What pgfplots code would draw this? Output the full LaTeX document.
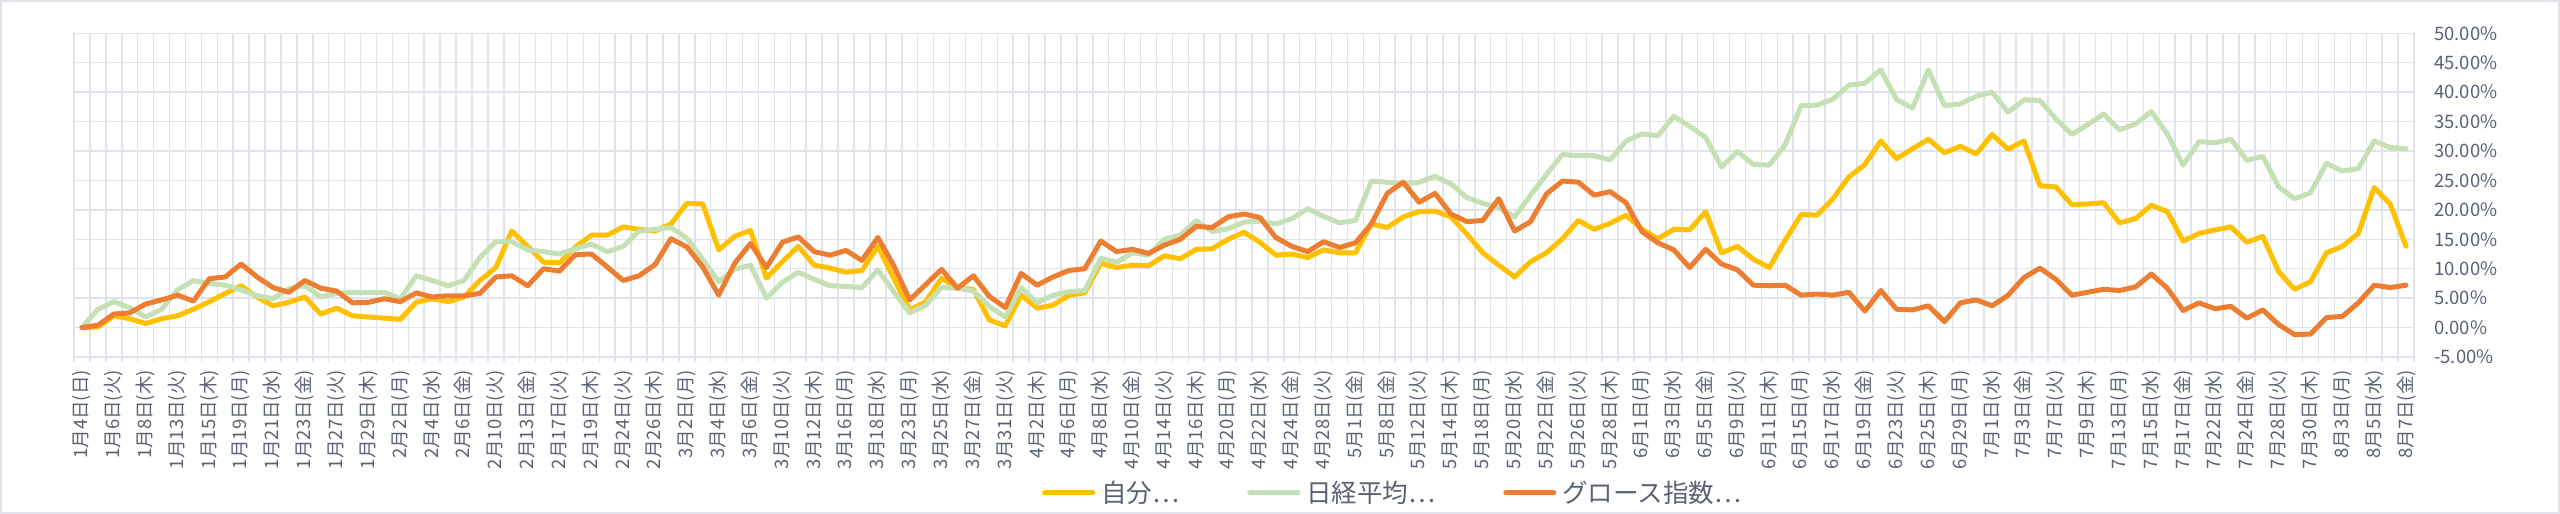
\documentclass[border=0pt]{standalone}
\usepackage{fontspec}
\setmainfont{Noto Sans CJK JP}
\usepackage{pgfplots}
\usepackage{pgfplotstable}
\pgfplotsset{compat=1.18}
\definecolor{cA}{HTML}{FFC000}
\definecolor{cB}{HTML}{C5E0B4}
\definecolor{cC}{HTML}{ED7D31}
\definecolor{gridc}{HTML}{DFE3EA}
\definecolor{txt}{HTML}{596273}
\pgfplotstableread{
i a b c
0 0 0 0
1 0.1 3.1 0.4
2 2.0 4.4 2.3
3 1.5 3.4 2.5
4 0.7 1.8 4.0
5 1.5 3.1 4.7
6 2.0 6.4 5.5
7 3.1 8.0 4.5
8 4.4 7.5 8.3
9 5.8 7.2 8.6
10 7.1 6.4 10.8
11 5.2 5.4 8.6
12 3.7 4.9 6.8
13 4.3 6.6 6.0
14 5.2 7.1 8.0
15 2.3 5.2 6.7
16 3.3 5.8 6.2
17 2.0 6.0 4.2
18 1.8 6.0 4.3
19 1.6 6.0 4.9
20 1.4 4.9 4.4
21 4.3 8.8 5.9
22 4.9 8.0 5.2
23 4.4 7.1 5.4
24 5.2 8.0 5.4
25 8.0 11.9 5.8
26 10.2 14.6 8.6
27 16.4 14.6 8.8
28 13.8 13.2 7.1
29 11.1 12.9 10.0
30 11.0 12.5 9.6
31 13.7 13.4 12.4
32 15.7 14.2 12.5
33 15.7 12.9 10.3
34 17.1 13.8 8.0
35 16.7 16.4 8.8
36 16.4 16.7 10.7
37 17.6 17.0 15.1
38 21.1 15.2 13.7
39 21.0 11.6 10.3
40 13.2 7.8 5.5
41 15.5 9.9 10.9
42 16.5 10.6 14.3
43 8.4 5.0 10.2
44 11.2 7.7 14.5
45 13.8 9.4 15.4
46 10.6 8.2 12.9
47 10.1 7.1 12.3
48 9.4 7.0 13.1
49 9.7 6.8 11.4
50 13.8 9.8 15.3
51 8.4 6.1 10.5
52 3.0 2.5 4.7
53 4.4 3.8 7.3
54 8.4 6.8 9.9
55 6.7 6.7 6.7
56 6.5 6.2 8.8
57 1.3 3.6 5.3
58 0.3 1.8 3.4
59 5.5 6.8 9.2
60 3.3 4.2 7.2
61 3.8 5.5 8.6
62 5.5 6.1 9.7
63 5.9 6.3 10.0
64 10.9 11.8 14.7
65 10.2 11.1 12.9
66 10.6 12.7 13.3
67 10.5 12.3 12.6
68 12.2 15.0 14.0
69 11.7 15.7 15.0
70 13.3 18.2 17.2
71 13.4 16.3 17.0
72 15.0 16.8 18.8
73 16.2 17.9 19.3
74 14.5 18.1 18.7
75 12.3 17.6 15.3
76 12.5 18.5 13.8
77 11.9 20.2 12.9
78 13.2 18.9 14.6
79 12.7 17.8 13.6
80 12.7 18.2 14.4
81 17.6 24.9 17.6
82 17.0 24.7 22.8
83 18.8 24.4 24.7
84 19.7 24.7 21.3
85 19.8 25.7 22.8
86 18.8 24.4 19.3
87 15.9 22.1 18.0
88 12.7 21.1 18.2
89 10.6 20.4 21.9
90 8.6 18.8 16.4
91 11.2 22.5 18.0
92 12.7 26.0 22.7
93 15.1 29.4 24.9
94 18.2 29.2 24.7
95 16.7 29.2 22.5
96 17.7 28.5 23.1
97 19.1 31.7 21.2
98 16.7 32.9 16.3
99 15.1 32.6 14.4
100 16.7 35.9 13.2
101 16.6 34.2 10.2
102 19.7 32.3 13.3
103 12.7 27.3 10.8
104 13.8 29.9 9.8
105 11.6 27.7 7.2
106 10.2 27.6 7.1
107 14.9 31.1 7.2
108 19.2 37.7 5.5
109 19.1 37.8 5.7
110 21.9 38.8 5.5
111 25.6 41.2 6.0
112 27.7 41.5 2.8
113 31.7 43.8 6.3
114 28.7 38.7 3.1
115 30.4 37.3 3.0
116 32.0 43.8 3.7
117 29.7 37.7 1.0
118 30.8 38.0 4.2
119 29.5 39.3 4.7
120 32.8 40.0 3.7
121 30.3 36.6 5.5
122 31.7 38.7 8.5
123 24.1 38.6 10.1
124 23.9 35.5 8.2
125 20.9 32.8 5.5
126 21.0 34.5 6.0
127 21.2 36.3 6.5
128 17.8 33.6 6.3
129 18.5 34.6 6.9
130 20.8 36.7 9.1
131 19.7 32.9 6.7
132 14.7 27.6 2.9
133 16.0 31.6 4.2
134 16.6 31.4 3.2
135 17.1 32.0 3.6
136 14.5 28.4 1.6
137 15.5 29.1 3.0
138 9.5 23.9 0.5
139 6.5 21.9 -1.2
140 7.8 22.9 -1.1
141 12.7 27.9 1.7
142 13.8 26.6 1.9
143 16.0 27.0 4.2
144 23.8 31.7 7.2
145 21.0 30.6 6.8
146 13.8 30.4 7.2
}\data
\begin{document}
\begin{tikzpicture}[x=1pt,y=1pt]
\path[use as bounding box] (0,0) rectangle (2560,514);
\draw[color=gridc, line width=2pt] (1,1) rectangle (2559,513);
\begin{axis}[
  at={(74pt,157pt)}, anchor=south west,
  scale only axis, width=2340pt, height=323.7pt,
  xmin=-0.5, xmax=146.5, ymin=-5, ymax=50,
  axis line style={draw=none},
  ytick={-5,0,...,50},
  ymajorgrids,
  major grid style={gridc, line width=1.5pt},
  minor grid style={gridc, line width=1.5pt},
  yticklabel pos=right,
  /pgf/number format/assume math mode=true,
  yticklabel={\pgfmathprintnumber[fixed,fixed zerofill,precision=2]{\tick}\%},
  yticklabel style={anchor=west, inner sep=0pt, xshift=20pt, font=\fontsize{18.5}{20}\selectfont, text=txt},
  xtick={0,2,...,146},
  xticklabels={1月4日(日),1月6日(火),1月8日(木),1月13日(火),1月15日(木),1月19日(月),1月21日(水),1月23日(金),1月27日(火),1月29日(木),2月2日(月),2月4日(水),2月6日(金),2月10日(火),2月13日(金),2月17日(火),2月19日(木),2月24日(火),2月26日(木),3月2日(月),3月4日(水),3月6日(金),3月10日(火),3月12日(木),3月16日(月),3月18日(水),3月23日(月),3月25日(水),3月27日(金),3月31日(火),4月2日(木),4月6日(月),4月8日(水),4月10日(金),4月14日(火),4月16日(木),4月20日(月),4月22日(水),4月24日(金),4月28日(火),5月1日(金),5月8日(金),5月12日(火),5月14日(木),5月18日(月),5月20日(水),5月22日(金),5月26日(火),5月28日(木),6月1日(月),6月3日(水),6月5日(金),6月9日(火),6月11日(木),6月15日(月),6月17日(水),6月19日(金),6月23日(火),6月25日(木),6月29日(月),7月1日(水),7月3日(金),7月7日(火),7月9日(木),7月13日(月),7月15日(水),7月17日(金),7月22日(水),7月24日(金),7月28日(火),7月30日(木),8月3日(月),8月5日(水),8月7日(金)},
  xticklabel style={yshift=-13pt, rotate=90, anchor=east, inner sep=0pt, font=\fontsize{18.5}{20}\selectfont, text=txt},
  minor xtick={-0.5,0.5,...,146.5},
  xminorgrids,
  major tick length=0pt,
  minor tick length=5pt,
  tick align=outside,
  xtick pos=bottom,
  minor tick style={gridc, line width=1.5pt},
  legend columns=3,
  legend style={at={(0.4137,-0.420)}, anchor=west, draw=none, fill=none,
    font=\fontsize{25.5}{27}\selectfont, text=txt, inner sep=0pt,
    nodes={inner sep=0pt},
    /tikz/every odd column/.append style={column sep=6pt},
    /tikz/every even column/.append style={column sep=68pt}},
  legend image code/.code={\draw[#1] (0pt,0pt) -- (48pt,0pt);},
]
\addplot[cA, line width=5pt, line join=round, line cap=round] table[x=i,y=a]{\data};
\addlegendentry{自分…}
\addplot[cB, line width=5pt, line join=round, line cap=round] table[x=i,y=b]{\data};
\addlegendentry{日経平均…}
\addplot[cC, line width=5pt, line join=round, line cap=round] table[x=i,y=c]{\data};
\addlegendentry{グロース指数…}
\end{axis}
\end{tikzpicture}
\end{document}
